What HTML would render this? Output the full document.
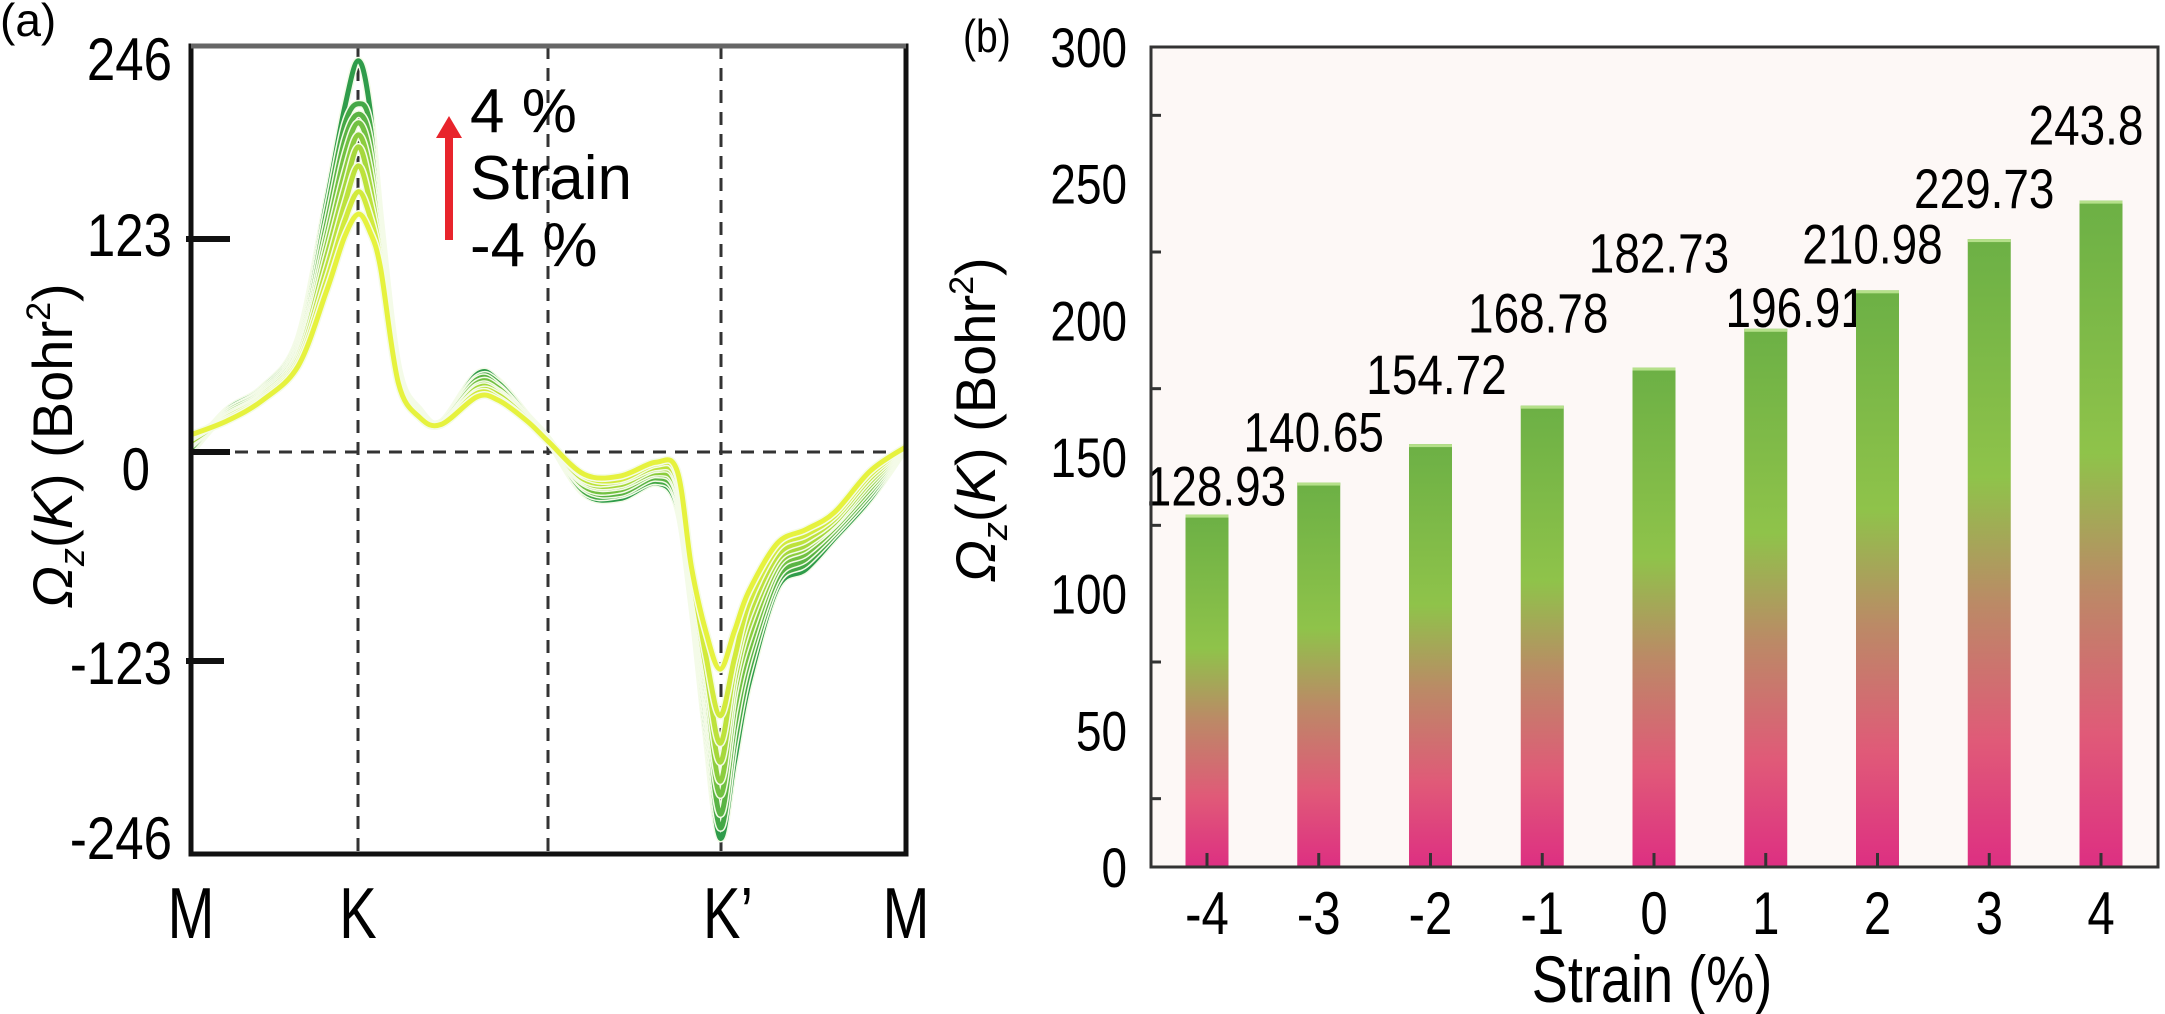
<!DOCTYPE html>
<html><head><meta charset="utf-8"><style>
html,body{margin:0;padding:0;background:#fff;}
svg{display:block;font-family:"Liberation Sans",sans-serif;}
</style></head><body>
<svg id="fig" width="2165" height="1014" viewBox="0 0 2165 1014" xmlns="http://www.w3.org/2000/svg">
<defs>
<linearGradient id="barGrad" x1="0" y1="0" x2="0" y2="1">
<stop offset="0" stop-color="#6cb045"/>
<stop offset="0.38" stop-color="#8fc34a"/>
<stop offset="0.58" stop-color="#bb8a66"/>
<stop offset="0.8" stop-color="#e05a78"/>
<stop offset="1" stop-color="#dd2f82"/>
</linearGradient>
</defs>
<g id="panelA">
<text x="0" y="36" font-size="46">(a)</text>
<text transform="translate(72,446) rotate(-90)" text-anchor="middle" font-size="56"><tspan font-style="italic">Ω</tspan><tspan font-size="36" dy="12" font-style="italic">z</tspan><tspan dy="-12">(</tspan><tspan font-style="italic">K</tspan><tspan>)  (Bohr</tspan><tspan font-size="34" dy="-22">2</tspan><tspan dy="22">)</tspan></text>
<g font-size="60" text-anchor="end">
<text transform="translate(172,80) scale(0.85,1)">246</text>
<text transform="translate(172,256) scale(0.85,1)">123</text>
<text transform="translate(150,490) scale(0.85,1)">0</text>
<text transform="translate(172,684) scale(0.85,1)">-123</text>
<text transform="translate(172,859) scale(0.85,1)">-246</text>
</g>
<g font-size="72" text-anchor="middle">
<text transform="translate(191,938) scale(0.78,1)">M</text>
<text transform="translate(358,938) scale(0.78,1)">K</text>
<text transform="translate(728,938) scale(0.78,1)">K’</text>
<text transform="translate(906,938) scale(0.78,1)">M</text>
</g>
<g stroke="#333" stroke-width="3" stroke-dasharray="13,9">
<line x1="358" y1="46" x2="358" y2="854"/>
<line x1="548" y1="46" x2="548" y2="854"/>
<line x1="721" y1="46" x2="721" y2="854"/>
<line x1="191" y1="452" x2="906" y2="452"/>
</g>
<g id="curvesA"></g>
<rect x="191" y="46" width="715" height="808" fill="none" stroke="#111" stroke-width="5"/>
<line x1="191" y1="46" x2="906" y2="46" stroke="#666" stroke-width="5"/>
<g stroke="#111" stroke-width="6">
<line x1="186" y1="239" x2="230" y2="239"/>
<line x1="191" y1="452" x2="230" y2="452"/>
<line x1="186" y1="661" x2="224" y2="661"/>
</g>
<g>
<rect x="445" y="132" width="8" height="108" fill="#e8242c"/>
<polygon points="436,138 462,138 449,116" fill="#e8242c"/>
<text x="470" y="132" font-size="62">4 %</text>
<text x="470" y="199" font-size="62">Strain</text>
<text x="470" y="266" font-size="62">-4 %</text>
</g>
</g>
<g id="panelB">
<text transform="translate(963,52) scale(0.85,1)" font-size="46">(b)</text>
<rect x="1151" y="47" width="1007" height="820" fill="#fdf8f6"/>
<g id="barsB"></g>
<g id="axesB"></g>
<rect x="1151" y="47" width="1007" height="820" fill="none" stroke="#333" stroke-width="3"/>
<text transform="translate(995,420) rotate(-90)" text-anchor="middle" font-size="56"><tspan font-style="italic">Ω</tspan><tspan font-size="36" dy="12" font-style="italic">z</tspan><tspan dy="-12">(</tspan><tspan font-style="italic">K</tspan><tspan>)  (Bohr</tspan><tspan font-size="34" dy="-22">2</tspan><tspan dy="22">)</tspan></text>
<text transform="translate(1652,1002) scale(0.82,1)" text-anchor="middle" font-size="66">Strain (%)</text>
</g>
</svg>
<script>
const kPath = [0,0.05,0.1,0.15,0.19,0.215,0.234,0.25,0.265,0.29,0.32,0.35,0.4,0.43,0.47,0.5,0.55,0.6,0.65,0.68,0.70,0.72,0.74,0.76,0.78,0.82,0.86,0.9,0.95,1];
const strainLabels = ["-4","-3","-2","-1","0","1","2","3","4"];
const curveM4 = [10,18,30,50,94,125,138,128,107,40,20,16,32,30,18,6,-13,-14,-6,-11,-67,-104,-126,-104,-81,-53,-45,-35,-11,3];
const curveM3 = [9,19,31,52,100,134,151,137,110,41,20,16,34,31,18,6,-14,-16,-7,-13,-69,-118,-153,-120,-88,-56,-48,-37,-13,3];
const curveM2 = [8,20,32,54,107,144,166,146,114,42,21,16,35,33,19,6,-16,-17,-9,-16,-72,-125,-169,-126,-95,-60,-51,-39,-15,3];
const curveM1 = [6,20,33,56,114,153,177,155,117,43,22,16,37,34,19,6,-17,-19,-10,-18,-74,-130,-180,-133,-101,-63,-54,-41,-17,3];
const curve0  = [5,21,33,57,120,162,184,164,120,44,22,16,38,35,20,6,-18,-20,-12,-21,-76,-136,-191,-140,-108,-66,-56,-42,-19,3];
const curveP1 = [4,22,34,59,126,172,191,173,123,45,22,17,40,37,20,7,-20,-22,-13,-23,-79,-142,-199,-150,-115,-69,-59,-44,-21,3];
const curveP2 = [2,23,35,61,133,181,196,182,127,46,23,17,42,38,20,7,-21,-24,-15,-26,-81,-147,-210,-160,-121,-73,-62,-46,-23,3];
const curveP3 = [1,23,36,63,140,190,202,191,130,47,23,17,43,40,21,7,-23,-25,-17,-28,-84,-154,-218,-170,-128,-76,-65,-48,-25,3];
const curveP4 = [0,24,37,65,146,200,227,200,133,48,24,17,45,41,21,7,-24,-27,-18,-31,-86,-161,-224,-180,-135,-79,-68,-50,-27,3];
const curveSeries = [curveM4,curveM3,curveM2,curveM1,curve0,curveP1,curveP2,curveP3,curveP4];
const curveColors = ["#e6f23e","#d2ea3c","#bde23c","#a6d83c","#8ccd3e","#72c142","#5ab444","#44a846","#2f9c4a"];

const barCategories = ["-4","-3","-2","-1","0","1","2","3","4"];
const barValues = [128.93,140.65,154.72,168.78,182.73,196.91,210.98,229.73,243.8];
const barValueLabels = ["128.93","140.65","154.72","168.78","182.73","196.91","210.98","229.73","243.8"];
const yTickValuesB = [0,50,100,150,200,250,300];
const yTickLabelsB = ["0","50","100","150","200","250","300"];
const labelLift = [9,31,50,73,95,2,27,31,56];
const labelShift = [9,-5,6,-4,5,30,-5,-5,-15];

const NS = "http://www.w3.org/2000/svg";
const ax = f => 191 + f*715;
const ay = v => 452 - v*(212/123);
function spline(pts){
  let d = "M" + pts[0][0].toFixed(1) + "," + pts[0][1].toFixed(1);
  for (let i=0;i<pts.length-1;i++){
    const p0 = pts[Math.max(0,i-1)], p1 = pts[i], p2 = pts[i+1], p3 = pts[Math.min(pts.length-1,i+2)];
    const c1x = p1[0]+(p2[0]-p0[0])/6, c1y = p1[1]+(p2[1]-p0[1])/6;
    const c2x = p2[0]-(p3[0]-p1[0])/6, c2y = p2[1]-(p3[1]-p1[1])/6;
    d += " C"+c1x.toFixed(1)+","+c1y.toFixed(1)+" "+c2x.toFixed(1)+","+c2y.toFixed(1)+" "+p2[0].toFixed(1)+","+p2[1].toFixed(1);
  }
  return d;
}
const gA = document.getElementById("curvesA");
for (let s = curveSeries.length-1; s >= 0; s--){
  const pts = kPath.map((f,i)=>[ax(f), ay(curveSeries[s][i])]);
  const d = spline(pts);
  const outline = document.createElementNS(NS,"path");
  outline.setAttribute("d", d);
  outline.setAttribute("fill","none");
  outline.setAttribute("stroke","#f4fbe8");
  outline.setAttribute("stroke-width","8");
  
  
  gA.appendChild(outline);
  const p = document.createElementNS(NS,"path");
  p.setAttribute("d", d);
  p.setAttribute("fill","none");
  p.setAttribute("stroke", curveColors[s]);
  p.setAttribute("stroke-width","5");
  
  
  gA.appendChild(p);
}

const bx = i => 1207 + i*111.75;
const by = v => 867 - v*(820/300);
const barW = 43;
const gB = document.getElementById("barsB");
barValues.forEach((v,i)=>{
  const r = document.createElementNS(NS,"rect");
  r.setAttribute("x", bx(i)-barW/2);
  r.setAttribute("y", by(v));
  r.setAttribute("width", barW);
  r.setAttribute("height", by(0)-by(v));
  r.setAttribute("fill","url(#barGrad)");
  
  
  gB.appendChild(r);
  const top = document.createElementNS(NS,"rect");
  top.setAttribute("x", bx(i)-barW/2);
  top.setAttribute("y", by(v));
  top.setAttribute("width", barW);
  top.setAttribute("height", 3);
  top.setAttribute("fill","#b5e08a");
  
  
  gB.appendChild(top);
  const t = document.createElementNS(NS,"text");
  t.setAttribute("transform","translate("+(bx(i)+labelShift[i])+","+(by(v)-labelLift[i])+") scale(0.82,1)");
  t.setAttribute("text-anchor","middle");
  t.setAttribute("font-size","56");
  t.textContent = barValueLabels[i];
  
  
  gB.appendChild(t);
  const xl = document.createElementNS(NS,"text");
  xl.setAttribute("transform","translate("+bx(i)+",934) scale(0.82,1)");
  xl.setAttribute("text-anchor","middle");
  xl.setAttribute("font-size","60");
  xl.textContent = barCategories[i];
  
  
  gB.appendChild(xl);
  const tk = document.createElementNS(NS,"line");
  tk.setAttribute("x1", bx(i)); tk.setAttribute("x2", bx(i));
  tk.setAttribute("y1", 867); tk.setAttribute("y2", 853);
  tk.setAttribute("stroke","#333"); tk.setAttribute("stroke-width","3");
  
  
  gB.appendChild(tk);
});
const gAx = document.getElementById("axesB");
yTickValuesB.forEach((v,i)=>{
  const t = document.createElementNS(NS,"text");
  t.setAttribute("transform","translate(1127,"+(by(v)+20)+") scale(0.82,1)");
  t.setAttribute("text-anchor","end");
  t.setAttribute("font-size","56");
  t.textContent = yTickLabelsB[i];
  
  
  gAx.appendChild(t);
  if (i < yTickValuesB.length-1){
    const m = document.createElementNS(NS,"line");
    m.setAttribute("x1",1151); m.setAttribute("x2",1161);
    m.setAttribute("y1", by(v+25)); m.setAttribute("y2", by(v+25));
    m.setAttribute("stroke","#333"); m.setAttribute("stroke-width","3");
    
    
    gAx.appendChild(m);
  }
});
</script>
</body></html>
